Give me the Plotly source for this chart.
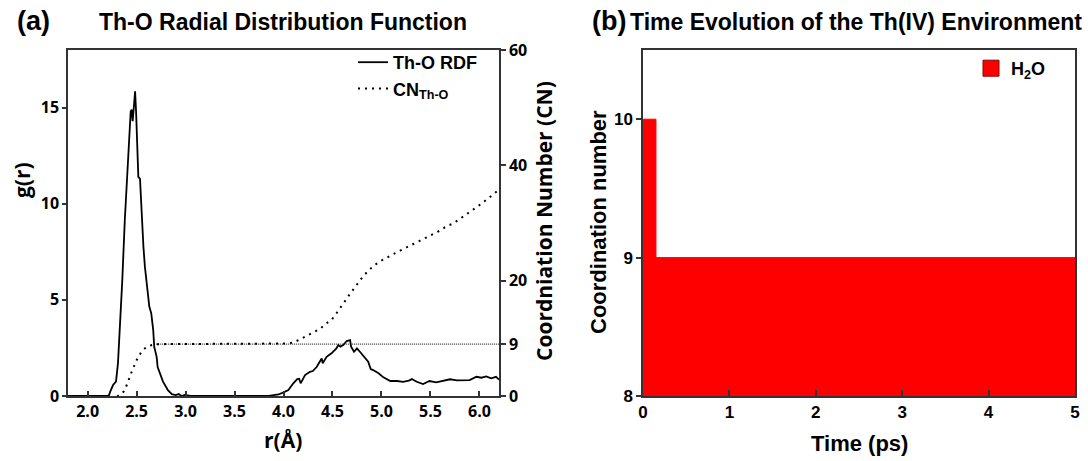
import plotly.graph_objects as go

# ---------------- data ----------------
# Th-O radial distribution function g(r)
r_rdf = [1.80, 2.00, 2.20, 2.22, 2.23, 2.26, 2.29, 2.31, 2.33, 2.354, 2.38, 2.405, 2.426,
         2.44, 2.45, 2.46, 2.475, 2.485, 2.495, 2.508, 2.518, 2.535, 2.55, 2.57, 2.585,
         2.61, 2.63, 2.65, 2.67, 2.68, 2.705, 2.715, 2.74, 2.77, 2.80, 2.82, 2.86, 2.90,
         2.93, 2.96, 2.99, 3.05, 3.50, 3.85, 3.90, 3.95, 4.00, 4.05, 4.10, 4.14, 4.16,
         4.175, 4.22, 4.27, 4.30, 4.34, 4.37, 4.39, 4.40, 4.44, 4.49, 4.54, 4.56, 4.58,
         4.61, 4.645, 4.68, 4.69, 4.72, 4.75, 4.78, 4.81, 4.865, 4.89, 4.915, 4.97, 5.02,
         5.09, 5.16, 5.22, 5.28, 5.31, 5.36, 5.425, 5.49, 5.56, 5.63, 5.70, 5.77, 5.84,
         5.90, 5.97, 6.02, 6.07, 6.12, 6.17, 6.20]
g_rdf = [0.00, 0.00, 0.00, 0.05, 0.22, 0.57, 0.75, 1.70, 3.43, 6.00, 9.16, 11.6, 13.5,
         14.8, 14.9, 14.3, 15.2, 15.85, 14.8, 13.3, 11.4, 11.3, 9.50, 7.77, 6.73,
         5.50, 4.65, 4.30, 3.43, 2.57, 2.04, 1.50, 1.18, 0.75, 0.48, 0.30, 0.10, 0.05,
         0.10, 0.00, 0.05, 0.00, 0.00, 0.00, 0.05, 0.08, 0.19, 0.31, 0.66, 0.88, 0.90,
         0.66, 1.09, 1.26, 1.30, 1.52, 1.78, 1.96, 1.70, 2.04, 2.22, 2.48, 2.65, 2.57,
         2.65, 2.86, 2.91, 2.57, 2.30, 2.48, 2.30, 2.13, 1.78, 1.40, 1.35, 1.18, 0.97,
         0.78, 0.78, 0.74, 0.80, 0.88, 0.74, 0.62, 0.78, 0.71, 0.79, 0.87, 0.81, 0.83,
         0.83, 1.00, 0.95, 1.02, 0.92, 1.00, 0.85]

# Running coordination number CN(Th-O)
r_cn = [2.30, 2.33, 2.37, 2.40, 2.45, 2.50, 2.55, 2.60, 2.65, 2.70, 2.80, 3.00, 3.50,
        3.90, 4.00, 4.10, 4.17, 4.235, 4.30, 4.37, 4.43, 4.49, 4.535, 4.58, 4.63, 4.67,
        4.72, 4.76, 4.81, 4.865, 4.915, 4.98, 5.05, 5.12, 5.19, 5.26, 5.32, 5.39, 5.46,
        5.53, 5.60, 5.66, 5.73, 5.80, 5.87, 5.94, 6.00, 6.10, 6.20]
cn = [0.0, 0.1, 0.8, 1.9, 4.2, 6.2, 7.7, 8.5, 8.8, 8.95, 9.0, 9.0, 9.0,
      9.05, 9.1, 9.25, 9.8, 10.4, 11.0, 11.6, 12.5, 13.2, 14.2, 15.2, 16.5, 17.5,
      18.7, 19.5, 20.7, 21.7, 22.5, 23.3, 24.0, 24.6, 25.2, 25.8, 26.3, 26.9, 27.5,
      28.1, 28.7, 29.4, 29.9, 30.7, 31.5, 32.3, 33.1, 34.4, 35.8]

# first-shell plateau reference
cn_ref_r = [2.70, 6.20]
cn_ref_val = [9, 9]

# Time evolution of the Th(IV) coordination number (step data)
time_ps = [0.0, 0.15, 5.0]
cn_time = [10, 9, 9]

# tick labels
rdf_x_ticks = [2.0, 2.5, 3.0, 3.5, 4.0, 4.5, 5.0, 5.5, 6.0]
rdf_x_ticktext = ["2.0", "2.5", "3.0", "3.5", "4.0", "4.5", "5.0", "5.5", "6.0"]
g_ticks = [0, 5, 10, 15]
cn_ticks = [0, 9, 20, 40, 60]
time_ticks = [0, 1, 2, 3, 4, 5]
cn_time_ticks = [8, 9, 10]

# ---------------- layout helpers ----------------
W, H = 1088, 461
def px(x):
    return x / W
def py(y):
    return 1 - y / H

CAL = "'Open Sans', 'Noto Sans', sans-serif"
ARI = "'Liberation Sans', Arial, sans-serif"
AX = "#333333"

fig = go.Figure()

fig.add_trace(go.Scatter(x=r_rdf, y=g_rdf, mode="lines", name="Th-O RDF",
                         line=dict(color="black", width=1.8), xaxis="x", yaxis="y",
                         legend="legend"))
fig.add_trace(go.Scatter(x=r_cn, y=cn, mode="lines", name="CN<sub>Th-O</sub>",
                         line=dict(color="black", width=2, dash="2px,5px"),
                         xaxis="x", yaxis="y2", legend="legend"))
fig.add_trace(go.Scatter(x=cn_ref_r, y=cn_ref_val, mode="lines", showlegend=False,
                         line=dict(color="black", width=1, dash="1px,1px"),
                         xaxis="x", yaxis="y2"))

fig.add_trace(go.Scatter(x=time_ps, y=cn_time, mode="lines", line_shape="hv",
                         fill="tozeroy", fillcolor="#ff0000",
                         line=dict(color="#ff0000", width=1), showlegend=False,
                         xaxis="x2", yaxis="y3"))
fig.add_trace(go.Scatter(x=[None], y=[None], mode="markers", name="H<sub>2</sub>O",
                         marker=dict(symbol="square", size=22, color="#ff0000",
                                     line=dict(color="#8b0000", width=1)),
                         xaxis="x2", yaxis="y3", legend="legend2"))

ydom = [py(396), py(50)]
common_ax = dict(showgrid=False, zeroline=False, showline=True, linecolor=AX,
                 linewidth=1.5, tickcolor=AX, tickwidth=1.5)
cal_tick = dict(family=CAL, size=16, color="black", weight="bold")
ari_tick = dict(family=ARI, size=17, color="black", weight="bold")

fig.update_layout(
    width=W, height=H,
    margin=dict(l=0, r=0, t=0, b=0, autoexpand=False),
    paper_bgcolor="white", plot_bgcolor="white",
    xaxis=dict(domain=[px(68), px(499)], range=[1.8, 6.2], anchor="y",
               tickvals=rdf_x_ticks, ticktext=rdf_x_ticktext, ticks="inside", ticklen=5,
               mirror=True, tickfont=cal_tick, **common_ax),
    yaxis=dict(domain=ydom, range=[0, 18], anchor="x", tickvals=g_ticks,
               ticks="outside", ticklen=4, tickfont=cal_tick, **common_ax),
    yaxis2=dict(range=[0, 60], overlaying="y", side="right", anchor="x",
                tickvals=cn_ticks, ticks="outside", ticklen=5, tickfont=cal_tick,
                **common_ax),
    xaxis2=dict(domain=[px(643), px(1075)], range=[0, 5], anchor="y3",
                tickvals=time_ticks, ticks="inside", ticklen=6, mirror=True,
                tickfont=ari_tick, **common_ax),
    yaxis3=dict(domain=ydom, range=[8, 10.5], anchor="x2", tickvals=cn_time_ticks,
                ticks="outside", ticklen=5, mirror=True, tickfont=ari_tick,
                **common_ax),
    legend=dict(x=px(353), y=py(44), xanchor="left", yanchor="top",
                bgcolor="rgba(0,0,0,0)", borderwidth=0,
                font=dict(family=ARI, size=18, color="black", weight="bold"),
                itemwidth=30, tracegroupgap=0),
    legend2=dict(x=px(971), y=py(50), xanchor="left", yanchor="top",
                 bgcolor="rgba(0,0,0,0)", borderwidth=0,
                 font=dict(family=ARI, size=18, color="black", weight="bold")),
    showlegend=True,
)

def ann(text, x, y, family, size, angle=0):
    fig.add_annotation(text=text, x=px(x), y=py(y), xref="paper", yref="paper",
                       showarrow=False, xanchor="center", yanchor="middle",
                       textangle=angle,
                       font=dict(family=family, size=size, color="black", weight="bold"))

ann("(a)", 33, 21, ARI, 27)
ann("Th-O Radial Distribution Function", 283, 22, ARI, 23)
ann("(b)", 609, 21, ARI, 27)
ann("Time Evolution of the Th(IV) Environment", 856, 22, ARI, 23)
ann("g(r)", 22, 180, CAL, 21, -90)
ann("Coordniation Number (CN)", 544, 221, CAL, 21, -90)
ann("r(Å)", 283, 440, CAL, 21)
ann("Coordination number", 598, 222, ARI, 22, -90)
ann("Time (ps)", 859, 443, ARI, 22)

fig.write_html("out.html")
